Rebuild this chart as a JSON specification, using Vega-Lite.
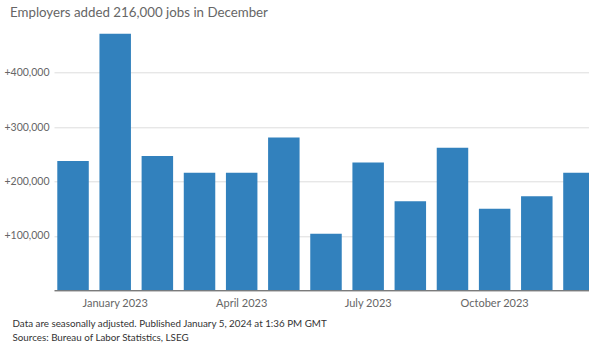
{
  "$schema": "https://vega.github.io/schema/vega-lite/v6.json",
  "width": 535,
  "height": 261,
  "autosize": {"type": "none"},
  "padding": {"left": 54, "top": 29.3, "right": 0, "bottom": 56.7},
  "background": "white",
  "title": {
    "text": "Employers added 216,000 jobs in December",
    "anchor": "start",
    "frame": "group",
    "dx": -44,
    "offset": 10,
    "font": "Lato",
    "fontSize": 13.3,
    "fontWeight": "normal",
    "color": "#666666"
  },
  "data": {
    "values": [
      {"month": "2022-12-15", "jobs": 238000},
      {"month": "2023-01-15", "jobs": 472000},
      {"month": "2023-02-15", "jobs": 247000},
      {"month": "2023-03-15", "jobs": 216000},
      {"month": "2023-04-15", "jobs": 216000},
      {"month": "2023-05-15", "jobs": 281000},
      {"month": "2023-06-15", "jobs": 104000},
      {"month": "2023-07-15", "jobs": 235000},
      {"month": "2023-08-15", "jobs": 164000},
      {"month": "2023-09-15", "jobs": 262000},
      {"month": "2023-10-15", "jobs": 150000},
      {"month": "2023-11-15", "jobs": 173000},
      {"month": "2023-12-15", "jobs": 216000}
    ]
  },
  "mark": {"type": "bar", "color": "#3281bd", "clip": true},
  "encoding": {
    "x": {
      "field": "month",
      "timeUnit": "yearmonth",
      "type": "ordinal",
      "scale": {"range": [0, 544], "paddingInner": 0.253, "paddingOuter": 0.078},
      "axis": {
        "labelExpr": "month(datum.value) % 3 == 0 ? timeFormat(datum.value, '%B %Y') : ''",
        "labelAngle": 0,
        "ticks": false,
        "labelPadding": 7.5,
        "labelFont": "Lato",
        "labelFontSize": 11,
        "labelColor": "#666666",
        "domainColor": "#444444",
        "domainWidth": 1,
        "grid": false,
        "title": ["Data are seasonally adjusted. Published January 5, 2024 at 1:36 PM GMT", "Sources: Bureau of Labor Statistics, LSEG"],
        "titleAnchor": "start",
        "titleAlign": "left",
        "titleX": -42,
        "titleY": 28.5,
        "titleBaseline": "top",
        "titleFont": "Lato",
        "titleFontSize": 9.8,
        "titleFontWeight": "normal",
        "titleColor": "#333333",
        "titleLineHeight": 13.4
      }
    },
    "y": {
      "field": "jobs",
      "type": "quantitative",
      "scale": {"domain": [0, 480000], "nice": false},
      "axis": {
        "values": [100000, 200000, 300000, 400000],
        "labelExpr": "'+' + format(datum.value, ',')",
        "ticks": false,
        "domain": false,
        "labelPadding": 5,
        "labelFont": "Lato",
        "labelFontSize": 10.5,
        "labelColor": "#666666",
        "gridColor": "#dddddd",
        "gridWidth": 1,
        "title": null
      }
    }
  },
  "config": {"view": {"stroke": null}}
}
